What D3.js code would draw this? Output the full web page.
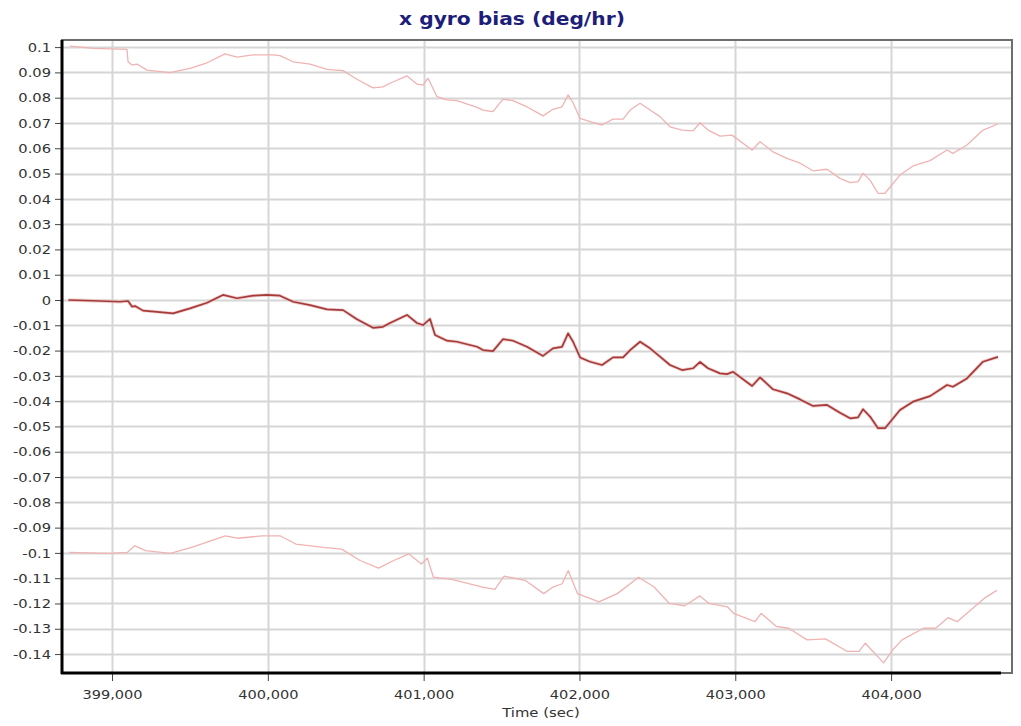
<!DOCTYPE html>
<html>
<head>
<meta charset="utf-8">
<script src="https://cdn.jsdelivr.net/npm/d3@7"></script>
<style>
  html, body { margin: 0; padding: 0; background: #ffffff; }
  svg { display: block; }
</style>
</head>
<body>
<svg id="chart" width="1021" height="726"></svg>
<script>
// ---------------- data ----------------
const chartTitle = "x gyro bias (deg/hr)";
const xAxisTitle = "Time (sec)";

const xTicks = [399000, 400000, 401000, 402000, 403000, 404000];
const yTicks = [0.1, 0.09, 0.08, 0.07, 0.06, 0.05, 0.04, 0.03, 0.02, 0.01, 0,
  -0.01, -0.02, -0.03, -0.04, -0.05, -0.06, -0.07, -0.08, -0.09, -0.1,
  -0.11, -0.12, -0.13, -0.14];

// centre estimate
const centerTime = [398720, 398878, 399051, 399103, 399128, 399148, 399199, 399289, 399392,
  399501, 399610, 399712, 399802, 399905, 399995, 400078, 400162, 400271, 400380, 400483,
  400572, 400675, 400739, 400784, 400893, 400957, 400996, 401041, 401073, 401150, 401214,
  401343, 401381, 401445, 401509, 401574, 401663, 401766, 401830, 401888, 401927, 401959,
  402004, 402068, 402145, 402215, 402280, 402325, 402389, 402453, 402517, 402581, 402658,
  402729, 402774, 402825, 402902, 402947, 402986, 403108, 403159, 403242, 403332, 403416,
  403499, 403589, 403672, 403737, 403788, 403820, 403865, 403916, 403961, 404057, 404141,
  404250, 404359, 404397, 404487, 404590, 404686];
const centerBias = [0.0000, -0.0003, -0.0007, -0.0004, -0.0026, -0.0024, -0.0042, -0.0047, -0.0053,
  -0.0033, -0.0011, 0.0020, 0.0007, 0.0017, 0.0020, 0.0017, -0.0007, -0.0020, -0.0037, -0.0040,
  -0.0076, -0.0110, -0.0106, -0.0091, -0.0059, -0.0091, -0.0099, -0.0075, -0.0138, -0.0161, -0.0165,
  -0.0185, -0.0198, -0.0202, -0.0155, -0.0161, -0.0185, -0.0221, -0.0191, -0.0185, -0.0132, -0.0165,
  -0.0227, -0.0244, -0.0257, -0.0227, -0.0227, -0.0198, -0.0165, -0.0191, -0.0224, -0.0257, -0.0277,
  -0.0270, -0.0245, -0.0270, -0.0290, -0.0293, -0.0284, -0.0340, -0.0306, -0.0353, -0.0369, -0.0393,
  -0.0419, -0.0415, -0.0446, -0.0468, -0.0464, -0.0432, -0.0461, -0.0507, -0.0507, -0.0435, -0.0402,
  -0.0380, -0.0336, -0.0343, -0.0310, -0.0244, -0.0225];

// upper bound
const upperTime = [398730, 398878, 399096, 399103, 399128, 399160, 399225, 399372, 399501,
  399610, 399725, 399802, 399905, 400033, 400078, 400162, 400271, 400380, 400483, 400572,
  400675, 400739, 400784, 400893, 400957, 400996, 401028, 401086, 401150, 401214, 401343,
  401381, 401445, 401509, 401574, 401663, 401766, 401830, 401888, 401927, 401959, 402004,
  402068, 402145, 402215, 402280, 402325, 402389, 402453, 402517, 402581, 402658, 402729,
  402774, 402825, 402902, 402979, 403108, 403159, 403242, 403332, 403416, 403499, 403589,
  403672, 403737, 403788, 403820, 403865, 403916, 403961, 404057, 404141, 404250, 404359,
  404397, 404487, 404590, 404686];
const upperBias = [0.1004, 0.0995, 0.0991, 0.0942, 0.0929, 0.0933, 0.0909, 0.0899, 0.0916,
  0.0938, 0.0973, 0.0960, 0.0969, 0.0969, 0.0966, 0.0942, 0.0933, 0.0912, 0.0907, 0.0873,
  0.0839, 0.0843, 0.0857, 0.0886, 0.0854, 0.0850, 0.0877, 0.0804, 0.0791, 0.0788, 0.0762,
  0.0751, 0.0745, 0.0794, 0.0788, 0.0764, 0.0728, 0.0754, 0.0764, 0.0811, 0.0780, 0.0718,
  0.0705, 0.0692, 0.0715, 0.0715, 0.0751, 0.0778, 0.0751, 0.0725, 0.0685, 0.0672, 0.0669,
  0.0701, 0.0672, 0.0648, 0.0652, 0.0593, 0.0626, 0.0586, 0.0560, 0.0541, 0.0511, 0.0517,
  0.0481, 0.0464, 0.0468, 0.0501, 0.0474, 0.0422, 0.0422, 0.0494, 0.0530, 0.0551, 0.0593,
  0.0580, 0.0613, 0.0672, 0.0696];

// lower bound
const lowerTime = [398725, 398981, 399098, 399146, 399216, 399374, 399511, 399727, 399805,
  399963, 400081, 400179, 400356, 400474, 400592, 400710, 400808, 400906, 400985, 401024,
  401063, 401181, 401378, 401457, 401516, 401653, 401771, 401830, 401889, 401928, 401987,
  402125, 402243, 402380, 402479, 402577, 402675, 402773, 402832, 402950, 402989, 403127,
  403166, 403264, 403343, 403461, 403579, 403717, 403795, 403834, 403893, 403952, 404011,
  404070, 404208, 404286, 404365, 404424, 404601, 404679];
const lowerBias = [-0.0998, -0.1002, -0.0998, -0.0972, -0.0991, -0.1002, -0.0978, -0.0933, -0.0942,
  -0.0933, -0.0933, -0.0965, -0.0978, -0.0985, -0.1030, -0.1060, -0.1030, -0.1004, -0.1044, -0.1021,
  -0.1096, -0.1105, -0.1135, -0.1144, -0.1092, -0.1109, -0.1161, -0.1135, -0.1122, -0.1070, -0.1161,
  -0.1194, -0.1161, -0.1096, -0.1135, -0.1200, -0.1209, -0.1170, -0.1200, -0.1213, -0.1239, -0.1272,
  -0.1239, -0.1291, -0.1298, -0.1344, -0.1340, -0.1389, -0.1389, -0.1357, -0.1396, -0.1435, -0.1383,
  -0.1344, -0.1298, -0.1298, -0.1256, -0.1272, -0.1178, -0.1148];

// ---------------- layout ----------------
const W = 1021, H = 726;
const plot = { left: 62, top: 40, right: 1012, bottom: 673 };
const FONT = "'DejaVu Sans', Verdana, sans-serif";

const svg = d3.select("#chart");

const x = d3.scaleLinear().domain([398679, 404776]).range([plot.left, plot.right]);
const y = d3.scaleLinear().domain([-0.14749, 0.10281]).range([plot.bottom, plot.top]);

// stretch text horizontally (reference glyphs are wider than DejaVu's)
function stretch(sel, k) {
  sel.each(function () {
    const len = this.getComputedTextLength();
    if (len > 0) {
      this.setAttribute("textLength", (len * k).toFixed(2));
      this.setAttribute("lengthAdjust", "spacingAndGlyphs");
    }
  });
}

svg.append("rect").attr("x", 0).attr("y", 0).attr("width", W).attr("height", H).attr("fill", "#ffffff");

// grid
const grid = svg.append("g");
grid.selectAll("line.h").data(yTicks).enter().append("line")
  .attr("x1", plot.left).attr("x2", plot.right)
  .attr("y1", d => Math.round(y(d)) + 0.5).attr("y2", d => Math.round(y(d)) + 0.5)
  .attr("stroke", "#d6d6d6").attr("stroke-width", 2);
grid.selectAll("line.v").data(xTicks).enter().append("line")
  .attr("y1", plot.top).attr("y2", plot.bottom)
  .attr("x1", d => Math.round(x(d)) + 0.5).attr("x2", d => Math.round(x(d)) + 0.5)
  .attr("stroke", "#d6d6d6").attr("stroke-width", 2);

// frame (top/right grey)
svg.append("rect")
  .attr("x", plot.left).attr("y", plot.top)
  .attr("width", plot.right - plot.left).attr("height", plot.bottom - plot.top)
  .attr("fill", "none").attr("stroke", "#6e6e6e").attr("stroke-width", 2);

// series
const line = d3.line().x(d => x(d[0])).y(d => y(d[1]));
const zip = (a, b) => a.map((t, i) => [t, b[i]]);

svg.append("path").datum(zip(upperTime, upperBias))
  .attr("d", line).attr("fill", "none").attr("stroke", "#f0b3b3").attr("stroke-width", 1.3)
  .attr("stroke-linejoin", "round");
svg.append("path").datum(zip(lowerTime, lowerBias))
  .attr("d", line).attr("fill", "none").attr("stroke", "#f0b3b3").attr("stroke-width", 1.3)
  .attr("stroke-linejoin", "round");
svg.append("path").datum(zip(centerTime, centerBias))
  .attr("d", line).attr("fill", "none").attr("stroke", "#e8b0b0").attr("stroke-width", 3.4)
  .attr("stroke-linejoin", "round").attr("opacity", 0.6);
svg.append("path").datum(zip(centerTime, centerBias))
  .attr("d", line).attr("fill", "none").attr("stroke", "#a63c3a").attr("stroke-width", 1.7)
  .attr("stroke-linejoin", "round");

// axes
const fmtY = v => String(+v.toFixed(2));
const yAxis = d3.axisLeft(y).tickValues(yTicks).tickFormat(fmtY).tickSize(7).tickPadding(4);
const yMinor = d3.axisLeft(y).tickValues(d3.range(-0.146, 0.1021, 0.002)).tickFormat("").tickSize(3);
const xAxis = d3.axisBottom(x).tickValues(xTicks).tickFormat(d3.format(",")).tickSize(8).tickPadding(9);
const xMinor = d3.axisBottom(x).tickValues(d3.range(398800, 404700, 200)).tickFormat("").tickSize(4);

const gy = svg.append("g").attr("transform", `translate(${plot.left},0)`);
gy.call(yMinor);
gy.call(yAxis);
const gx = svg.append("g").attr("transform", `translate(0,${plot.bottom})`);
gx.call(xMinor);
gx.call(xAxis);

svg.selectAll(".domain").remove();
svg.selectAll(".tick line").attr("stroke", "#444");
gy.selectAll(".tick text")
  .attr("fill", "#333")
  .style("font-family", FONT)
  .style("font-size", "13px");
gx.selectAll(".tick text")
  .attr("fill", "#333")
  .style("font-family", FONT)
  .style("font-size", "13px");
stretch(gy.selectAll(".tick text"), 1.13);
stretch(gx.selectAll(".tick text"), 1.12);

// thick black axis lines
svg.append("line").attr("x1", plot.left).attr("x2", plot.left)
  .attr("y1", plot.top).attr("y2", plot.bottom + 1)
  .attr("stroke", "#000").attr("stroke-width", 3);
svg.append("line").attr("x1", plot.left - 1).attr("x2", plot.right - 11)
  .attr("y1", plot.bottom).attr("y2", plot.bottom)
  .attr("stroke", "#000").attr("stroke-width", 3);

// titles
const title = svg.append("text")
  .attr("x", 512).attr("y", 25)
  .attr("text-anchor", "middle")
  .attr("fill", "#1d1d7a")
  .style("font-family", FONT)
  .style("font-weight", "bold")
  .style("font-size", "17px")
  .text(chartTitle);
stretch(title, 1.19);

const xt = svg.append("text")
  .attr("x", 541).attr("y", 717)
  .attr("text-anchor", "middle")
  .attr("fill", "#333")
  .style("font-family", FONT)
  .style("font-size", "13px")
  .text(xAxisTitle);
stretch(xt, 1.14);
</script>
</body>
</html>
